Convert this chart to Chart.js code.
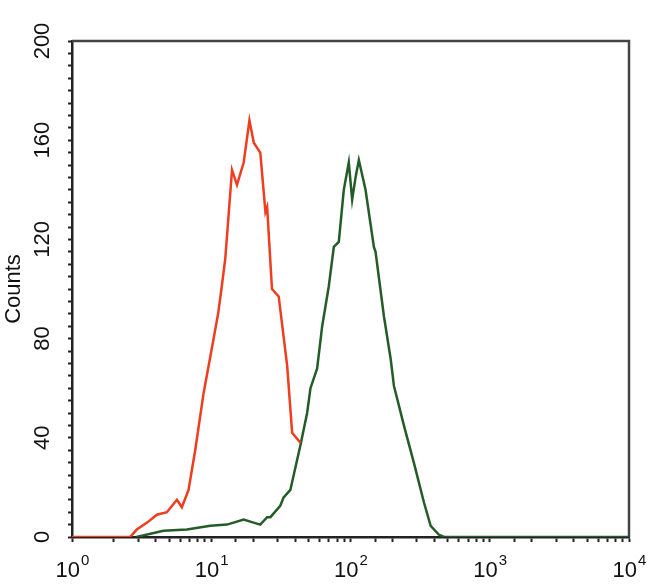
<!DOCTYPE html>
<html>
<head>
<meta charset="utf-8">
<script src="https://cdn.jsdelivr.net/npm/chart.js@4"></script>
<style>
    html, body { margin: 0; padding: 0; background: #fff; }
    #wrap { width: 650px; height: 585px; }
</style>
</head>
<body>
<div id="wrap"><canvas id="histChart" width="650" height="585"></canvas></div>
<script>
// fluorescence intensity (log axis) and counts
const redX = [1, 2.61, 2.92, 3.5, 4.07, 4.8, 5.67, 6.15, 6.87, 7.67, 8.81, 10.4, 11.2, 11.9, 12.6, 14.1, 15.3, 17.1, 18.8, 20.2, 22.5, 24.5, 25.2, 27.3, 30.5, 35.1, 38.1, 43.7];
const redCounts = [0, 0, 3, 6, 9, 10, 15, 12, 19, 35, 58, 80, 90, 101, 112, 148, 142, 151, 168, 159, 155, 131, 133, 100, 97, 69, 42, 38];

const greenX = [2.9, 4.54, 6.69, 9.84, 12.97, 17.1, 19.6, 22.5, 25.2, 26.6, 31.3, 33.1, 37, 39.1, 43.7, 48.8, 51.6, 57.6, 62.6, 69.8, 75.9, 82.4, 89.5, 97.2, 102.8, 108.7, 114.8, 128.2, 147.2, 151.3, 173.8, 194.1, 205, 241.8, 285, 336.6, 376.4, 430, 470, 10000];
const greenCounts = [0, 2.5, 3, 4.5, 5, 7, 6, 5, 8, 8, 12.6, 16, 19, 25, 37, 50, 60, 68, 85, 101, 117, 119, 140, 151, 136, 145, 152, 140, 117, 115, 89, 72, 61, 45, 30, 14, 4.5, 1, 0, 0];

const yTickLabels = [0, 40, 80, 120, 160, 200];
const xTickExps = [0, 1, 2, 3, 4];

const FONT = "'Liberation Sans', Arial, sans-serif";

function toPoints(xs, ys) {
    return xs.map((x, i) => ({ x: x, y: ys[i] }));
}

// tick labels: rotated numbers on the left, 10^n with superscript below
const labelPlugin = {
    id: 'labels',
    afterDraw(chart) {
        const ctx = chart.ctx;
        const xs = chart.scales.x;
        const ys = chart.scales.y;
        ctx.save();
        ctx.fillStyle = '#111';

        ctx.font = '22px ' + FONT;
        ctx.textAlign = 'center';
        ctx.textBaseline = 'middle';
        yTickLabels.forEach(v => {
            ctx.save();
            ctx.translate(42, ys.getPixelForValue(v));
            ctx.rotate(-Math.PI / 2);
            ctx.fillText(String(v), 0, 1);
            ctx.restore();
        });

        ctx.textAlign = 'left';
        ctx.textBaseline = 'alphabetic';
        xTickExps.forEach(e => {
            const px = xs.getPixelForValue(Math.pow(10, e));
            ctx.font = '22px ' + FONT;
            const w1 = ctx.measureText('10').width;
            ctx.font = '15px ' + FONT;
            const w2 = ctx.measureText(String(e)).width;
            const left = px - (w1 + w2) / 2;
            ctx.font = '22px ' + FONT;
            ctx.fillText('10', left, 577);
            ctx.font = '15px ' + FONT;
            ctx.fillText(String(e), left + w1 + 1, 565);
        });

        // top and right frame
        const a = chart.chartArea;
        ctx.strokeStyle = '#444';
        ctx.lineWidth = 2.5;
        ctx.beginPath();
        ctx.moveTo(a.left, a.top);
        ctx.lineTo(a.right, a.top);
        ctx.lineTo(a.right, a.bottom);
        ctx.stroke();
        ctx.restore();
    }
};

document.addEventListener("DOMContentLoaded", function () {
    let ctx = document.getElementById('histChart').getContext('2d');

    new Chart(ctx, {
        type: 'scatter',
        data: {
            datasets: [{
                data: toPoints(redX, redCounts),
                showLine: true,
                borderColor: '#ee3d1f',
                borderWidth: 2.5,
                pointRadius: 0,
                tension: 0
            }, {
                data: toPoints(greenX, greenCounts),
                showLine: true,
                borderColor: '#245c27',
                borderWidth: 2.5,
                pointRadius: 0,
                tension: 0
            }]
        },
        options: {
            responsive: false,
            animation: false,
            layout: { padding: { top: 41, right: 21, left: 0, bottom: 0 } },
            plugins: {
                legend: { display: false },
                tooltip: { enabled: false }
            },
            scales: {
                x: {
                    type: 'logarithmic',
                    min: 1,
                    max: 10000,
                    ticks: { display: false },
                    grid: { drawOnChartArea: false, drawTicks: true, tickLength: 5, tickColor: '#222', tickWidth: 2 },
                    border: { display: true, color: '#222', width: 2.5 },
                    afterFit(s) { s.height = 48; s.paddingLeft = 0; s.paddingRight = 0; }
                },
                y: {
                    min: 0,
                    max: 200,
                    ticks: { display: false, stepSize: 5, maxTicksLimit: 100 },
                    grid: { drawOnChartArea: false, drawTicks: true, tickLength: 4, tickColor: '#222', tickWidth: 2 },
                    border: { display: true, color: '#222', width: 2.5 },
                    title: { display: true, text: 'Counts', color: '#111', font: { family: FONT, size: 22 }, padding: { top: 1, bottom: 0 } },
                    afterFit(s) { s.width = 72; s.paddingTop = 0; s.paddingBottom = 0; }
                }
            }
        },
        plugins: [labelPlugin]
    });
});
</script>
</body>
</html>
